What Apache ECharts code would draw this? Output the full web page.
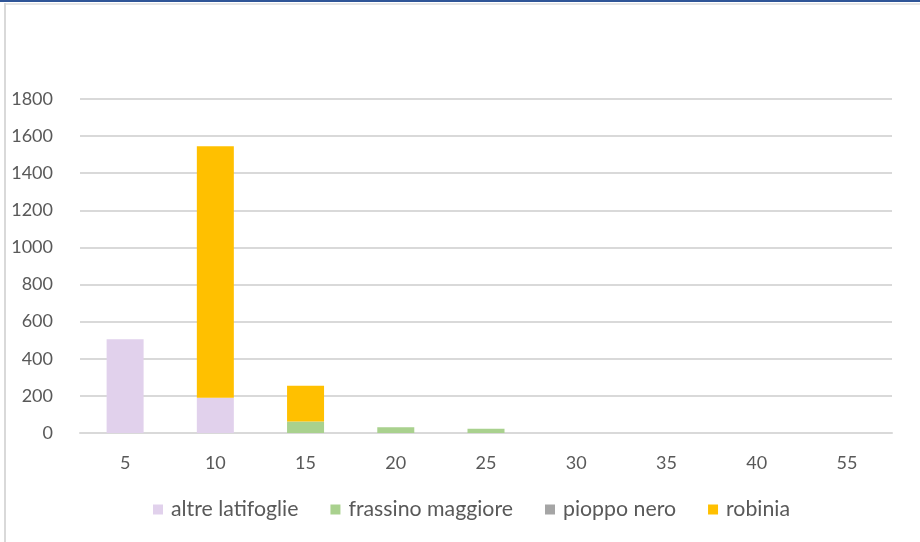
<!DOCTYPE html>
<html>
<head>
<meta charset="utf-8">
<script src="https://cdn.jsdelivr.net/npm/echarts@6/dist/echarts.min.js"></script>
<style>
  html, body { margin: 0; padding: 0; background: #fff; }
  #chart { width: 920px; height: 542px; }
</style>
</head>
<body>
<div id="chart"></div>
<script>
// Diameter classes (cm)
const categories = ['5', '10', '15', '20', '25', '30', '35', '40', '55'];

// Stem counts per species and diameter class
const altreLatifoglie = [505, 190, 0, 0, 0, 0, 0, 0, 0];
const frassinoMaggiore = [0, 0, 62, 31, 23, 0, 0, 0, 0];
const pioppoNero = [0, 0, 0, 0, 0, 0, 0, 0, 0];
const robinia = [0, 1355, 192, 0, 0, 0, 0, 0, 0];

const seriesNames = ['altre latifoglie', 'frassino maggiore', 'pioppo nero', 'robinia'];
const seriesData = [altreLatifoglie, frassinoMaggiore, pioppoNero, robinia];
const seriesColors = ['#E1D1EC', '#A9D18E', '#A5A5A5', '#FFC000'];

const textColor = '#595959';
const fontFamily = 'Lato, "Open Sans", sans-serif';

const chart = echarts.init(document.getElementById('chart'), null, { renderer: 'canvas' });

chart.setOption({
  animation: false,
  backgroundColor: '#ffffff',
  textStyle: { fontFamily: fontFamily },
  color: seriesColors,
  grid: { left: 80, right: 28, top: 99, bottom: 109, containLabel: false },
  legend: {
    data: seriesNames,
    left: 148,
    top: 494,
    icon: 'rect',
    itemWidth: 10,
    itemHeight: 10,
    itemGap: 32,
    textStyle: { color: textColor, fontSize: 21.3, fontFamily: fontFamily, padding: [0, 0, 0, 3] }
  },
  xAxis: {
    type: 'category',
    data: categories,
    axisLine: { show: true, lineStyle: { color: '#D9D9D9', width: 2 } },
    axisTick: { show: false },
    axisLabel: { color: textColor, fontSize: 18, margin: 21, fontFamily: fontFamily },
    splitLine: { show: false }
  },
  yAxis: {
    type: 'value',
    min: 0,
    max: 1800,
    interval: 200,
    axisLine: { show: false },
    axisTick: { show: false },
    axisLabel: {
      color: textColor,
      fontSize: 18,
      margin: 27,
      fontFamily: fontFamily,
      formatter: (v) => String(v)
    },
    splitLine: { lineStyle: { color: '#D9D9D9', width: 2 } }
  },
  series: seriesNames.map((name, i) => ({
    name: name,
    type: 'bar',
    stack: 'total',
    barWidth: 37,
    data: seriesData[i],
    itemStyle: { color: seriesColors[i] }
  })),
  graphic: [
    {
      type: 'rect',
      shape: { x: 0, y: 0, width: 920, height: 2 },
      style: { fill: '#2F5597' },
      silent: true
    },
    {
      type: 'rect',
      shape: { x: 5, y: 3, width: 915, height: 2 },
      style: { fill: '#E6E6E6' },
      silent: true
    },
    {
      type: 'rect',
      shape: { x: 4, y: 3, width: 2, height: 539 },
      style: { fill: '#D9D9D9' },
      silent: true
    }
  ]
});
</script>
</body>
</html>
